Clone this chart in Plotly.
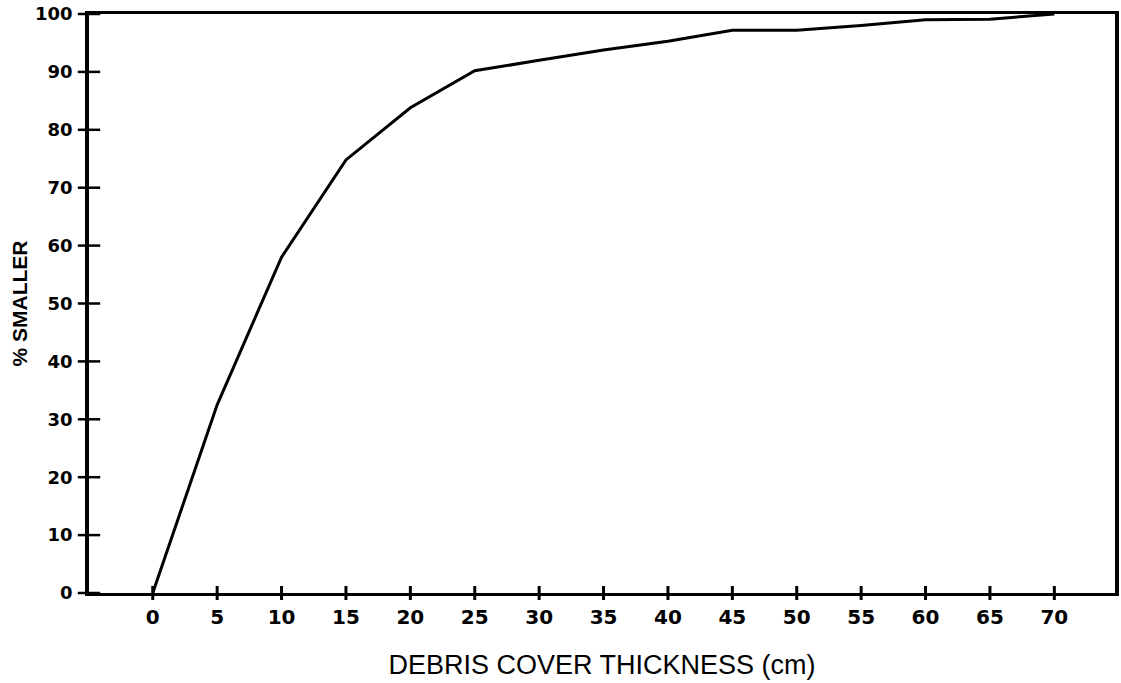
import plotly.graph_objects as go

# Data
thickness_cm = [0, 5, 10, 15, 20, 25, 30, 35, 40, 45, 50, 55, 60, 65, 70]
pct_smaller = [0, 32.5, 58, 74.8, 83.8, 90.2, 92, 93.8, 95.3, 97.2, 97.2, 98, 99, 99.1, 100]

x_tick_vals = [0, 5, 10, 15, 20, 25, 30, 35, 40, 45, 50, 55, 60, 65, 70]
y_tick_vals = [0, 10, 20, 30, 40, 50, 60, 70, 80, 90, 100]

X_MIN, X_MAX = -4.95, 74.71
Y_MIN, Y_MAX = 0, 100

fig = go.Figure()

fig.add_trace(go.Scatter(
    x=thickness_cm, y=pct_smaller, mode="lines",
    line=dict(color="black", width=3),
    showlegend=False, hoverinfo="skip", cliponaxis=False,
))

# tick marks crossing the axes
fig.add_trace(go.Scatter(
    x=x_tick_vals, y=[Y_MIN] * len(x_tick_vals), mode="markers",
    marker=dict(symbol="line-ns", size=10, line=dict(color="black", width=3)),
    showlegend=False, hoverinfo="skip", cliponaxis=False,
))
fig.add_trace(go.Scatter(
    x=[X_MIN] * len(y_tick_vals), y=y_tick_vals, mode="markers",
    marker=dict(symbol="line-ew", size=16, line=dict(color="black", width=2.5)),
    showlegend=False, hoverinfo="skip", cliponaxis=False,
))

fig.update_layout(
    width=1121, height=683,
    margin=dict(l=89, r=2, t=14, b=90),
    paper_bgcolor="white", plot_bgcolor="white",
    xaxis=dict(
        range=[X_MIN, X_MAX], tickvals=x_tick_vals,
        ticktext=[str(v) for v in x_tick_vals],
        ticks="outside", ticklen=4, tickcolor="rgba(0,0,0,0)",
        tickfont=dict(family="DejaVu Sans", size=20, color="black", weight="bold"),
        showline=True, linecolor="black", linewidth=3, mirror=True,
        showgrid=False, zeroline=False,
        title=dict(text="DEBRIS COVER THICKNESS (cm)",
                   font=dict(family="Liberation Sans", size=27, color="black"),
                   standoff=28),
    ),
    yaxis=dict(
        range=[Y_MIN, Y_MAX], tickvals=y_tick_vals,
        ticks="outside", ticklen=9, tickcolor="rgba(0,0,0,0)",
        tickfont=dict(family="DejaVu Sans", size=18, color="black", weight="bold"),
        showline=True, linecolor="black", linewidth=3.5, mirror=True,
        showgrid=False, zeroline=False,
        title=dict(text="% SMALLER",
                   font=dict(family="Liberation Sans", size=21, color="black", weight="bold"),
                   standoff=3),
    ),
)

fig.write_html("out.html")
